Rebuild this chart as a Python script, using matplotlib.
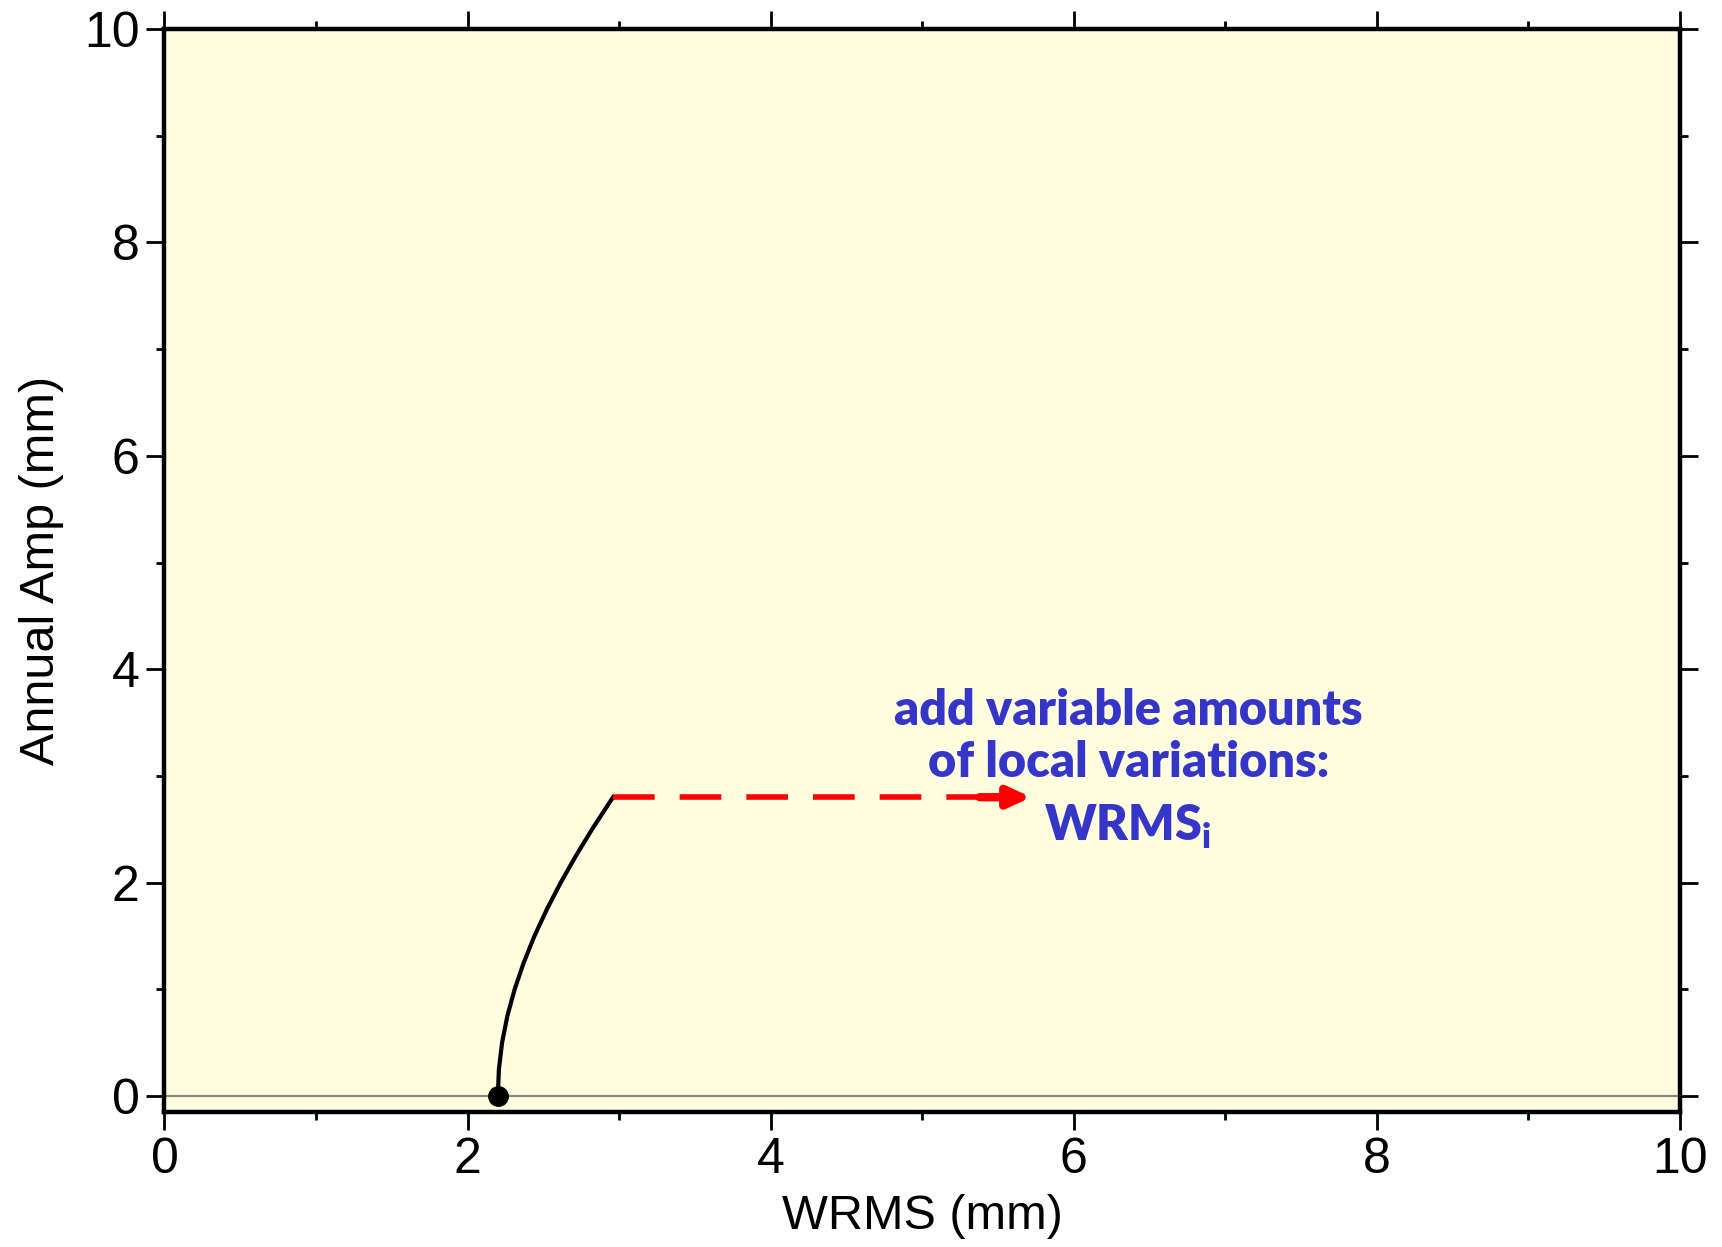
import matplotlib
matplotlib.use("Agg")
import matplotlib.pyplot as plt
from matplotlib.ticker import MultipleLocator

# Data
amp_values = [0.0, 0.25, 0.5, 0.75, 1.0, 1.25, 1.5, 1.75, 2.0, 2.25, 2.5, 2.8]
wrms_values = [2.200, 2.207, 2.228, 2.263, 2.311, 2.371, 2.442, 2.524, 2.615, 2.715, 2.822, 2.960]
start_point = (2.2, 0.0)
dash_x = [2.96, 5.4]
dash_y = [2.8, 2.8]
arrow_tail = (5.38, 2.8)
arrow_head = (5.72, 2.8)
annotation_lines = ["add variable amounts", "of local variations:"]
annotation_sub = r"WRMS$_{\mathregular{i}}$"
xticks = [0, 2, 4, 6, 8, 10]
yticks = [0, 2, 4, 6, 8, 10]

plt.rcParams['font.family'] = ['Liberation Sans', 'DejaVu Sans']

fig = plt.figure(figsize=(17.22, 12.47), dpi=100)
ax = fig.add_axes([0.0955, 0.1083, 0.880, 0.8684])
ax.set_facecolor('#FFFDE0')
ax.set_xlim(0, 10)
ax.set_ylim(-0.15, 10)

ax.axhline(0, color='#8a8a7a', lw=1.6, zorder=1)

ax.plot(wrms_values, amp_values, color='black', lw=3, zorder=3)
ax.plot([start_point[0]], [start_point[1]], 'o', color='black', ms=14, zorder=4)
ax.plot(dash_x, dash_y, color='#FF0000', lw=4, dashes=(7.5, 4.5), zorder=3)
ax.annotate('', xy=arrow_head, xytext=arrow_tail,
            arrowprops=dict(arrowstyle='-|>,head_length=1.3,head_width=0.6',
                            color='#FF0000', lw=6, shrinkA=0, shrinkB=0), zorder=3)

tfont = dict(family=['Lato', 'DejaVu Sans'], weight='heavy', color='#3535C8', fontsize=35, ha='center')
ax.text(6.36, 3.61, annotation_lines[0], va='center', **tfont)
ax.text(6.36, 3.13, annotation_lines[1], va='center', **tfont)
ax.text(6.36, 2.52, annotation_sub, va='center', **tfont)

for s in ax.spines.values():
    s.set_linewidth(3.2)
    s.set_color('black')

ax.set_xticks(xticks)
ax.set_yticks(yticks)
ax.xaxis.set_minor_locator(MultipleLocator(1))
ax.yaxis.set_minor_locator(MultipleLocator(1))
ax.tick_params(which='major', direction='out', length=13, width=2, labelsize=36,
               top=True, right=True, pad=5)
ax.tick_params(which='minor', direction='out', length=6, width=2, top=True, right=True)

ax.set_xlabel('WRMS (mm)', fontsize=35, labelpad=8)
ax.set_ylabel('Annual Amp (mm)', fontsize=35, labelpad=14)

fig.savefig('out.png', dpi=100, facecolor='white')
